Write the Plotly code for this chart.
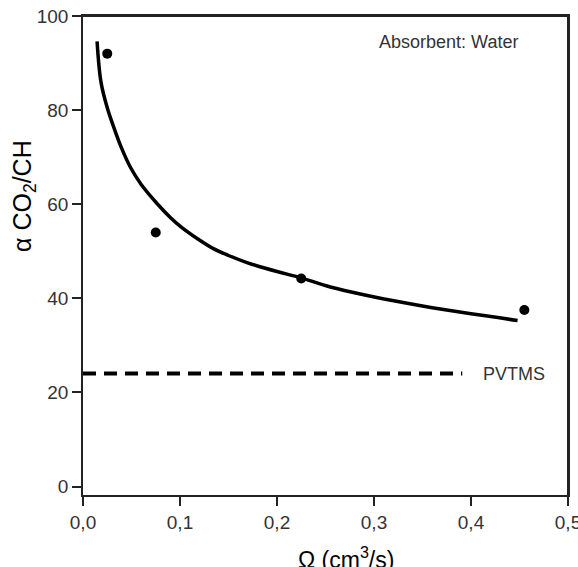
import plotly.graph_objects as go

# measured points
pts_x = [0.025, 0.075, 0.225, 0.455]
pts_y = [92.0, 54.0, 44.2, 37.5]

# fitted curve
curve_x = [0.0145, 0.0185, 0.025, 0.032, 0.04, 0.049, 0.06, 0.077, 0.09, 0.101, 0.12, 0.135, 0.15, 0.169, 0.2, 0.224, 0.255, 0.293, 0.33, 0.36, 0.4, 0.448]
curve_y = [94.6, 86.0, 80.5, 76.2, 71.8, 67.8, 64.2, 60.0, 57.2, 55.2, 52.4, 50.5, 49.1, 47.6, 45.7, 44.4, 42.4, 40.6, 39.1, 38.0, 36.7, 35.3]

# PVTMS reference line
ref_x = [0.0, 0.391]
ref_y = [24.0, 24.0]

x_ticks = [0.0, 0.1, 0.2, 0.3, 0.4, 0.5]
x_tick_text = ["0,0", "0,1", "0,2", "0,3", "0,4", "0,5"]
y_ticks = [0, 20, 40, 60, 80, 100]

W, H = 578, 567
L, R, T, B = 83, 10, 16, 72
pw, ph = W - L - R, H - T - B


def px(xp):  # page pixel -> paper x
    return (xp - L) / pw


def py(yp):  # page pixel -> paper y
    return (H - B - yp) / ph


fig = go.Figure()
fig.add_trace(go.Scatter(x=ref_x, y=ref_y, mode="lines",
                         line=dict(color="black", width=4, dash="13px,8px"),
                         showlegend=False, hoverinfo="skip"))
fig.add_trace(go.Scatter(x=curve_x, y=curve_y, mode="lines",
                         line=dict(color="black", width=3.5, shape="spline", smoothing=1.0),
                         showlegend=False))
fig.add_trace(go.Scatter(x=pts_x, y=pts_y, mode="markers",
                         marker=dict(color="black", size=10),
                         showlegend=False))

axis_col = "#222222"
txt_col = "#333333"
font_fam = "Liberation Sans, Arial, sans-serif"

fig.update_layout(
    width=W, height=H,
    margin=dict(l=L, r=R, t=T, b=B, autoexpand=False),
    paper_bgcolor="white", plot_bgcolor="white",
    font=dict(family=font_fam, color=txt_col, size=19),
    xaxis=dict(range=[0, 0.5], tickvals=x_ticks, ticktext=x_tick_text,
               showgrid=False, zeroline=False, showline=True, linecolor=axis_col,
               linewidth=1.5, mirror=True, ticks="outside", ticklen=9,
               ticklabeloverflow="allow", automargin=False,
               tickcolor=axis_col, tickwidth=1.5, tickfont=dict(size=19, color=txt_col)),
    yaxis=dict(range=[-1.8, 100], tickvals=y_ticks,
               showgrid=False, zeroline=False, showline=True, linecolor=axis_col,
               linewidth=1.5, mirror=True, ticks="outside", ticklen=9,
               ticklabeloverflow="allow", automargin=False,
               tickcolor=axis_col, tickwidth=1.5, tickfont=dict(size=19, color=txt_col)),
    shapes=[
        dict(type="line", xref="paper", yref="paper", x0=0, y0=1, x1=1, y1=1,
             line=dict(color=axis_col, width=2), layer="above"),
        dict(type="line", xref="paper", yref="paper", x0=1, y0=0, x1=1, y1=1,
             line=dict(color=axis_col, width=2), layer="above"),
    ],
    annotations=[
        dict(text="α CO<sub>2</sub>/CH", xref="paper", yref="paper",
             x=px(24), y=py(196), textangle=-90,
             showarrow=False, xanchor="center", yanchor="middle",
             font=dict(size=25, color="black")),
        dict(text="Ω (cm<sup>3</sup>/s)", xref="paper", yref="paper",
             x=px(346), y=py(558),
             showarrow=False, xanchor="center", yanchor="middle",
             font=dict(size=23, color="black")),
        dict(text="Absorbent: Water", xref="paper", yref="paper",
             x=px(377), y=py(42),
             showarrow=False, xanchor="left", yanchor="middle",
             font=dict(size=18, color=txt_col)),
        dict(text="PVTMS", x=0.41, y=24.0, xref="x", yref="y",
             showarrow=False, xanchor="left", yanchor="middle",
             font=dict(size=18, color=txt_col)),
    ],
)

fig.write_html("out.html", config={"displayModeBar": False},
               post_script="document.body.style.margin='0';document.body.style.overflow='hidden';")
